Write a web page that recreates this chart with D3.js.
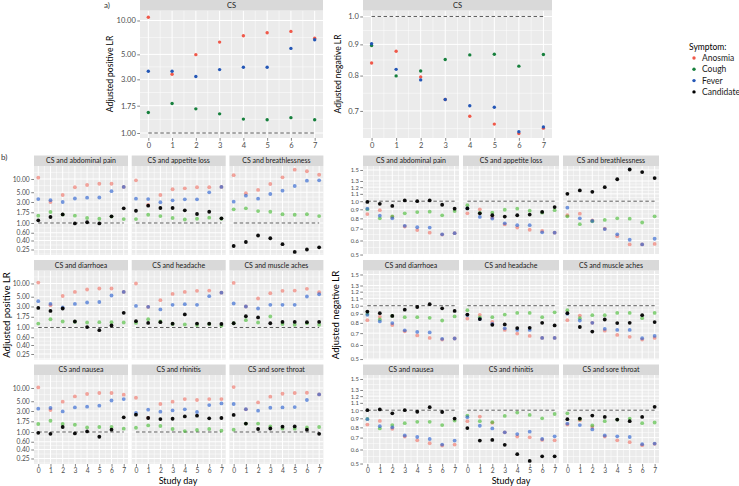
<!DOCTYPE html>
<html>
<head>
<meta charset="utf-8">
<script src="https://cdn.jsdelivr.net/npm/d3@7"></script>
<style>
  body { margin: 0; background: #fff; }
  svg { font-family: Lato, "Noto Sans", sans-serif; }
</style>
</head>
<body>
<svg id="chart" width="739" height="486"></svg>
<script>
var days = [0, 1, 2, 3, 4, 5, 6, 7];
var symptoms = ["Anosmia", "Cough", "Fever", "Candidate"];

// panel a: CS alone (order anosmia, cough, fever)
var aPosAnosmia = [10.7, 3.33, 4.97, 6.43, 7.32, 7.78, 8.0, 6.97];
var aPosCough   = [1.52, 1.83, 1.64, 1.48, 1.33, 1.31, 1.37, 1.31];
var aPosFever   = [3.54, 3.54, 3.18, 3.66, 3.84, 3.84, 5.65, 6.75];
var aNegAnosmia = [0.839, 0.877, 0.796, 0.731, 0.686, 0.666, 0.643, 0.656];
var aNegCough   = [0.896, 0.799, 0.814, 0.85, 0.865, 0.867, 0.829, 0.866];
var aNegFever   = [0.902, 0.819, 0.787, 0.731, 0.714, 0.71, 0.647, 0.659];

var aPosTicks = [1, 1.75, 3, 5, 10];
var aNegTicks = [0.7, 0.8, 0.9, 1.0];
var bPosTicks = [0.25, 0.4, 0.6, 1, 1.75, 3, 5, 10];
var bNegTicks = [0.5, 0.6, 0.7, 0.8, 0.9, 1.0, 1.1, 1.2, 1.3, 1.5];

var facetNames = ["CS and abdominal pain", "CS and appetite loss", "CS and breathlessness",
                  "CS and diarrhoea", "CS and headache", "CS and muscle aches",
                  "CS and nausea", "CS and rhinitis", "CS and sore throat"];

// panel b positive LR, rows = anosmia, cough, fever, candidate
var posAbdominal = [[10.7, 3.0, 4.33, 6.5, 7.3, 7.8, 7.8, 6.6], [1.47, 1.78, 1.55, 1.47, 1.3, 1.25, 1.4, 1.23], [3.5, 3.3, 3.0, 3.6, 3.76, 3.8, 5.3, 6.6], [1.15, 1.37, 1.57, 0.98, 1.04, 0.98, 1.42, 2.16]];
var posAppetite  = [[9.35, 2.57, 4.33, 5.84, 6.15, 6.5, 6.5, 6.6], [1.23, 1.54, 1.44, 1.3, 1.2, 1.25, 1.32, 1.25], [3.57, 3.5, 2.96, 3.28, 3.46, 3.46, 4.98, 6.6], [1.9, 2.47, 2.19, 2.19, 1.94, 1.6, 1.8, 1.28]];
var posBreath    = [[12.2, 4.74, 5.63, 7.7, 10.9, 16.3, 15.0, 12.5], [2.05, 2.16, 1.87, 1.8, 1.58, 1.54, 1.58, 1.44], [3.05, 4.18, 3.57, 4.56, 5.42, 6.93, 9.15, 9.35], [0.30, 0.37, 0.52, 0.45, 0.33, 0.22, 0.25, 0.28]];
var posDiarrhoea = [[10.5, 3.2, 5.2, 6.45, 7.3, 7.7, 7.7, 6.45], [1.23, 1.54, 1.37, 1.35, 1.3, 1.32, 1.32, 1.3], [3.96, 3.44, 2.85, 3.44, 3.7, 3.8, 5.33, 6.45], [2.79, 2.38, 2.7, 1.37, 1.02, 0.87, 1.11, 2.15]];
var posHeadache  = [[10.0, 2.94, 4.17, 5.8, 6.45, 6.8, 6.9, 6.2], [1.27, 1.54, 1.37, 1.2, 1.17, 1.14, 1.2, 1.1], [3.1, 2.95, 2.57, 3.27, 3.39, 3.27, 5.15, 6.2], [1.39, 1.27, 1.32, 1.22, 1.98, 1.23, 1.22, 1.2]];
var posMuscle    = [[10.3, 3.0, 4.56, 6.0, 6.8, 6.9, 7.55, 6.35], [1.25, 1.47, 1.3, 1.78, 1.2, 1.15, 1.25, 1.15], [3.51, 3.0, 2.7, 3.27, 3.27, 3.27, 5.06, 5.7], [1.25, 1.8, 1.69, 1.25, 1.34, 1.34, 1.32, 1.34]];
var posNausea    = [[10.3, 3.16, 4.9, 6.45, 7.3, 7.7, 7.7, 7.05], [1.52, 1.8, 1.52, 1.46, 1.27, 1.3, 1.3, 1.19], [3.39, 3.51, 2.94, 3.62, 3.76, 3.96, 5.2, 5.6], [0.96, 0.91, 1.3, 0.93, 1.03, 0.78, 1.13, 2.15]];
var posRhinitis  = [[6.0, 2.1, 4.33, 4.9, 5.6, 5.33, 5.6, 5.6], [1.25, 1.41, 1.37, 1.17, 1.05, 1.11, 1.17, 1.07], [2.7, 3.22, 2.9, 3.1, 3.27, 2.85, 4.1, 4.47], [2.47, 2.08, 1.97, 2.0, 2.26, 2.35, 2.04, 2.08]];
var posSore      = [[10.5, 3.27, 4.7, 6.35, 7.4, 7.7, 7.8, 7.15], [1.13, 1.55, 1.55, 1.34, 1.2, 1.19, 1.27, 1.3], [4.33, 3.3, 3.05, 3.56, 3.62, 3.69, 5.33, 7.15], [2.44, 1.55, 1.17, 1.2, 1.32, 1.34, 1.13, 0.91]];

// panel b negative LR
var negAbdominal = [[0.846, 0.89, 0.815, 0.72, 0.687, 0.664, 0.648, 0.66], [0.9, 0.80, 0.82, 0.854, 0.868, 0.873, 0.832, 0.88], [0.907, 0.829, 0.80, 0.726, 0.713, 0.71, 0.65, 0.66], [0.99, 0.967, 0.94, 1.01, 1.0, 1.01, 0.955, 0.907]];
var negAppetite  = [[0.854, 0.90, 0.81, 0.739, 0.71, 0.69, 0.68, 0.664], [0.95, 0.86, 0.862, 0.895, 0.907, 0.884, 0.862, 0.89], [0.91, 0.815, 0.798, 0.75, 0.732, 0.732, 0.667, 0.664], [0.91, 0.854, 0.833, 0.819, 0.833, 0.84, 0.87, 0.926]];
var negBreath    = [[0.833, 0.85, 0.78, 0.70, 0.634, 0.57, 0.57, 0.574], [0.822, 0.742, 0.77, 0.784, 0.80, 0.797, 0.758, 0.822], [0.919, 0.80, 0.774, 0.696, 0.65, 0.606, 0.57, 0.614], [1.1, 1.15, 1.13, 1.2, 1.33, 1.51, 1.46, 1.35]];
var negDiarrhoea = [[0.829, 0.865, 0.778, 0.717, 0.68, 0.658, 0.644, 0.653], [0.9, 0.836, 0.875, 0.862, 0.862, 0.854, 0.825, 0.87], [0.888, 0.815, 0.798, 0.726, 0.711, 0.707, 0.65, 0.653], [0.926, 0.907, 0.876, 0.95, 0.983, 1.02, 0.967, 0.934]];
var negHeadache  = [[0.846, 0.888, 0.81, 0.73, 0.696, 0.675, 0.658, 0.658], [0.943, 0.86, 0.862, 0.891, 0.91, 0.91, 0.862, 0.918], [0.885, 0.84, 0.79, 0.745, 0.73, 0.73, 0.658, 0.658], [0.891, 0.84, 0.78, 0.784, 0.748, 0.75, 0.8, 0.774]];
var negMuscle    = [[0.829, 0.88, 0.80, 0.723, 0.684, 0.667, 0.644, 0.658], [0.943, 0.85, 0.884, 0.884, 0.91, 0.91, 0.85, 0.91], [0.9, 0.825, 0.8, 0.739, 0.73, 0.73, 0.655, 0.675], [0.907, 0.758, 0.714, 0.836, 0.798, 0.8, 0.884, 0.808]];
var negNausea    = [[0.83, 0.87, 0.786, 0.71, 0.676, 0.651, 0.632, 0.64], [0.893, 0.789, 0.824, 0.845, 0.86, 0.86, 0.824, 0.874], [0.89, 0.813, 0.8, 0.72, 0.706, 0.688, 0.64, 0.674], [1.0, 1.01, 0.96, 1.0, 0.98, 1.04, 0.977, 0.897]];
var negRhinitis  = [[0.867, 0.92, 0.849, 0.75, 0.71, 0.703, 0.68, 0.676], [0.932, 0.867, 0.856, 0.928, 0.969, 0.94, 0.9, 0.952], [0.913, 0.817, 0.789, 0.75, 0.733, 0.756, 0.688, 0.712], [0.793, 0.674, 0.68, 0.638, 0.565, 0.517, 0.549, 0.549]];
var negSore      = [[0.83, 0.878, 0.803, 0.71, 0.676, 0.66, 0.634, 0.646], [0.96, 0.89, 0.82, 0.867, 0.885, 0.897, 0.845, 0.852], [0.84, 0.824, 0.779, 0.72, 0.712, 0.706, 0.643, 0.648], [0.89, 0.897, 0.932, 0.916, 0.885, 0.867, 0.916, 1.045]];

var posFacets = [posAbdominal, posAppetite, posBreath, posDiarrhoea, posHeadache, posMuscle, posNausea, posRhinitis, posSore];
var negFacets = [negAbdominal, negAppetite, negBreath, negDiarrhoea, negHeadache, negMuscle, negNausea, negRhinitis, negSore];

var colorsA = ["#f0594a", "#17803d", "#2457b6", "#000000"];
var colorsB = ["#ee5e50", "#3db82a", "#2c62cf", "#000000"];
var alphaB = [0.55, 0.6, 0.65, 0.95];

var svg = d3.select("#chart");
var stripH = 10.5;

function minorBreaks(ticks, dom) {
  var l = ticks.map(Math.log), out = [];
  for (var i = 0; i < l.length - 1; i++) out.push((l[i] + l[i + 1]) / 2);
  out.push(l[0] - (l[1] - l[0]) / 2);
  out.push(l[l.length - 1] + (l[l.length - 1] - l[l.length - 2]) / 2);
  return out.map(Math.exp).filter(function(v) { return v > dom[0] && v < dom[1]; });
}

function panel(o) {
  var g = svg.append("g");
  var x = d3.scaleLinear().domain([-0.35, 7.35]).range([o.x, o.x + o.w]);
  var y = d3.scaleLog().domain(o.dom).range([o.y + o.h, o.y]);

  g.append("rect").attr("x", o.x).attr("y", o.y).attr("width", o.w).attr("height", o.h).attr("fill", "#EBEBEB");

  // grid
  var xMinor = d3.range(0.5, 7, 1);
  g.selectAll(".mx").data(xMinor).enter().append("line")
    .attr("x1", x).attr("x2", x).attr("y1", o.y).attr("y2", o.y + o.h)
    .attr("stroke", "#fff").attr("stroke-width", 0.5);
  g.selectAll(".my").data(minorBreaks(o.ticks, o.dom)).enter().append("line")
    .attr("x1", o.x).attr("x2", o.x + o.w).attr("y1", y).attr("y2", y)
    .attr("stroke", "#fff").attr("stroke-width", 0.5);
  g.selectAll(".gx").data(days).enter().append("line")
    .attr("x1", x).attr("x2", x).attr("y1", o.y).attr("y2", o.y + o.h)
    .attr("stroke", "#fff").attr("stroke-width", 1);
  g.selectAll(".gy").data(o.ticks).enter().append("line")
    .attr("x1", o.x).attr("x2", o.x + o.w).attr("y1", y).attr("y2", y)
    .attr("stroke", "#fff").attr("stroke-width", 1);

  // strip
  g.append("rect").attr("x", o.x).attr("y", o.y - stripH).attr("width", o.w).attr("height", stripH).attr("fill", "#D9D9D9");
  g.append("text").attr("x", o.x + o.w / 2).attr("y", o.y - stripH / 2).attr("dy", "0.35em")
    .attr("text-anchor", "middle").attr("font-size", o.stripSize).attr("fill", "#1A1A1A").text(o.title);

  // reference line at LR = 1
  g.append("line").attr("x1", x(0)).attr("x2", x(7)).attr("y1", y(1)).attr("y2", y(1))
    .attr("stroke", "#333").attr("stroke-width", 0.8).attr("stroke-dasharray", "3.5,2.5");

  o.series.forEach(function(vals, i) {
    g.selectAll(null).data(vals).enter().append("circle")
      .attr("cx", function(d, j) { return x(days[j]); })
      .attr("cy", function(d) { return y(d); })
      .attr("r", o.r)
      .attr("fill", o.colors[i])
      .attr("fill-opacity", o.alpha[i]);
  });

  if (o.yAxis) {
    var ya = g.append("g").attr("transform", "translate(" + o.x + ",0)")
      .call(d3.axisLeft(y).tickValues(o.ticks).tickFormat(o.fmt).tickSize(2.75).tickPadding(1.5));
    styleAxis(ya, o.yTickSize || o.tickSize);
  }
  if (o.xAxis) {
    var xa = g.append("g").attr("transform", "translate(0," + (o.y + o.h) + ")")
      .call(d3.axisBottom(x).tickValues(days).tickFormat(d3.format("d")).tickSize(2.75).tickPadding(1.5));
    styleAxis(xa, o.tickSize);
  }
}

function styleAxis(a, size) {
  a.select(".domain").remove();
  a.selectAll(".tick line").attr("stroke", "#333").attr("stroke-width", 0.6);
  a.selectAll(".tick text").attr("fill", "#4D4D4D").attr("font-size", size).attr("font-family", "Lato, sans-serif");
}

// ---- panel a ----
panel({x: 140, y: 10.5, w: 183, h: 127.5, dom: [0.903, 12.27], ticks: aPosTicks, fmt: d3.format(".2f"),
  title: "CS", series: [aPosAnosmia, aPosCough, aPosFever], colors: colorsA, alpha: [1, 1, 1],
  r: 1.7, yAxis: true, xAxis: true, tickSize: 7.5, stripSize: 7.5});
panel({x: 363, y: 10.5, w: 189, h: 127.5, dom: [0.632, 1.0228], ticks: aNegTicks, fmt: d3.format(".1f"),
  title: "CS", series: [aNegAnosmia, aNegCough, aNegFever], colors: colorsA, alpha: [1, 1, 1],
  r: 1.7, yAxis: true, xAxis: true, tickSize: 7.5, stripSize: 7.5});

// ---- panel b ----
var posLefts = [34, 131.7, 229.4], negLefts = [363, 463, 563], rowTops = [166, 270.5, 375];
facetNames.forEach(function(name, k) {
  var r = Math.floor(k / 3), c = k % 3;
  panel({x: posLefts[c], y: rowTops[r], w: 94, h: 89, dom: [0.1874, 19.74], ticks: bPosTicks, fmt: d3.format(".2f"),
    title: name, series: posFacets[k], colors: colorsB, alpha: alphaB, r: 1.9,
    yAxis: c === 0, xAxis: r === 2, tickSize: 6.7, stripSize: 7});
  panel({x: negLefts[c], y: rowTops[r], w: 96, h: 89, dom: [0.497, 1.58], ticks: bNegTicks, fmt: d3.format(".1f"),
    title: name, series: negFacets[k], colors: colorsB, alpha: alphaB, r: 1.9,
    yAxis: c === 0, xAxis: r === 2, tickSize: 6.7, yTickSize: 5.8, stripSize: 7});
});

// labels and titles
function vtitle(x, y, t, size) {
  svg.append("text").attr("transform", "translate(" + x + "," + y + ") rotate(-90)")
    .attr("text-anchor", "middle").attr("font-size", size).attr("fill", "#000").text(t);
}
vtitle(113, 74, "Adjusted positive LR", 8.5);
vtitle(341, 74, "Adjusted negative LR", 8.5);
vtitle(10, 315, "Adjusted positive LR", 9.5);
vtitle(339, 315, "Adjusted negative LR", 9.5);
svg.append("text").attr("x", 178).attr("y", 483.5).attr("text-anchor", "middle").attr("font-size", 9).text("Study day");
svg.append("text").attr("x", 511).attr("y", 483.5).attr("text-anchor", "middle").attr("font-size", 9).text("Study day");
svg.append("text").attr("x", 104).attr("y", 8).attr("font-size", 8).attr("fill", "#333").text("a)");
svg.append("text").attr("x", 1).attr("y", 160).attr("font-size", 8).attr("fill", "#333").text("b)");

// legend
var leg = svg.append("g");
leg.append("text").attr("x", 689).attr("y", 47).attr("dy", "0.35em").attr("font-size", 8.5).text("Symptom:");
symptoms.forEach(function(s, i) {
  var yy = 58 + i * 11.3;
  leg.append("circle").attr("cx", 694).attr("cy", yy).attr("r", 1.7).attr("fill", colorsA[i]);
  leg.append("text").attr("x", 702).attr("y", yy).attr("dy", "0.35em").attr("font-size", 8.5).attr("fill", "#1A1A1A").text(s);
});
</script>
</body>
</html>
